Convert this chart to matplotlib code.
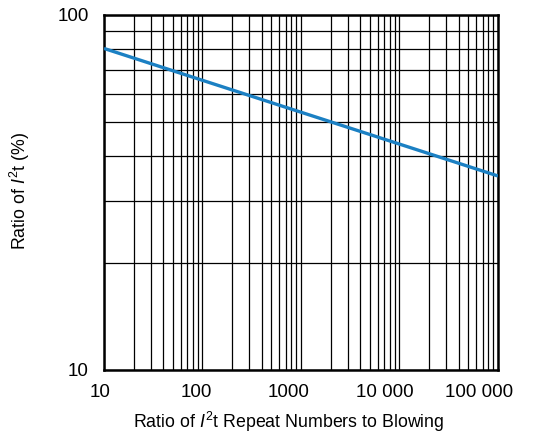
import matplotlib
matplotlib.use('Agg')
import matplotlib.pyplot as plt
import matplotlib.transforms as mtransforms
from matplotlib.ticker import FixedLocator, FixedFormatter, NullFormatter

plt.rcParams['font.family'] = 'Liberation Sans'
plt.rcParams['mathtext.fontset'] = 'custom'
plt.rcParams['mathtext.rm'] = 'Liberation Sans'
plt.rcParams['mathtext.it'] = 'Liberation Sans:italic'

# curve end points
repeat_ratio = [10, 100000]
i2t_ratio = [80.5, 35.2]

x_ticks = [10, 100, 1000, 10000, 100000]
x_labels = ['10', '100', '1000', '10 000', '100 000']
y_ticks = [10, 100]
y_labels = ['10', '100']

# the original tick labels sit a little left of their ticks (pixels)
x_label_shift = [-3.5, -6.5, -12, -14.5, -19]


def main():
    fig = plt.figure(figsize=(5.46, 4.36), dpi=100)
    ax = fig.add_axes([0.1905, 0.1514, 0.7215, 0.8142])
    ax.set_xscale('log')
    ax.set_yscale('log')
    ax.set_xlim(10, 100000)
    ax.set_ylim(10, 100)

    ax.plot(repeat_ratio, i2t_ratio, color='#1b80c3', lw=2.4, zorder=3,
            solid_capstyle='butt')

    ax.xaxis.set_major_locator(FixedLocator(x_ticks))
    ax.xaxis.set_major_formatter(NullFormatter())
    ax.yaxis.set_major_locator(FixedLocator(y_ticks))
    ax.yaxis.set_major_formatter(FixedFormatter(y_labels))
    ax.xaxis.set_minor_formatter(NullFormatter())
    ax.yaxis.set_minor_formatter(NullFormatter())
    ax.grid(True, which='both', color='black', lw=0.9)
    ax.tick_params(which='both', length=0, labelsize=13.5)
    ax.tick_params(axis='y', pad=11)
    for s in ax.spines.values():
        s.set_linewidth(1.8)

    base = mtransforms.blended_transform_factory(ax.transData, ax.transAxes)
    for x, lab, dx in zip(x_ticks, x_labels, x_label_shift):
        off = mtransforms.ScaledTranslation(dx / 100, -22.5 / 100,
                                            fig.dpi_scale_trans)
        ax.text(x, 0, lab, transform=base + off, fontsize=13.5,
                ha='center', va='center', clip_on=False)

    fig.text(289 / 546, 1 - 422 / 436,
             'Ratio of $\\mathit{I}^2$t Repeat Numbers to Blowing',
             fontsize=12.8, ha='center', va='center')
    fig.text(20 / 546, 1 - 191 / 436, 'Ratio of $\\mathit{I}^2$t (%)',
             fontsize=12.8, ha='center', va='center', rotation=90)
    fig.savefig('out.png', dpi=100)


if __name__ == '__main__':
    main()
